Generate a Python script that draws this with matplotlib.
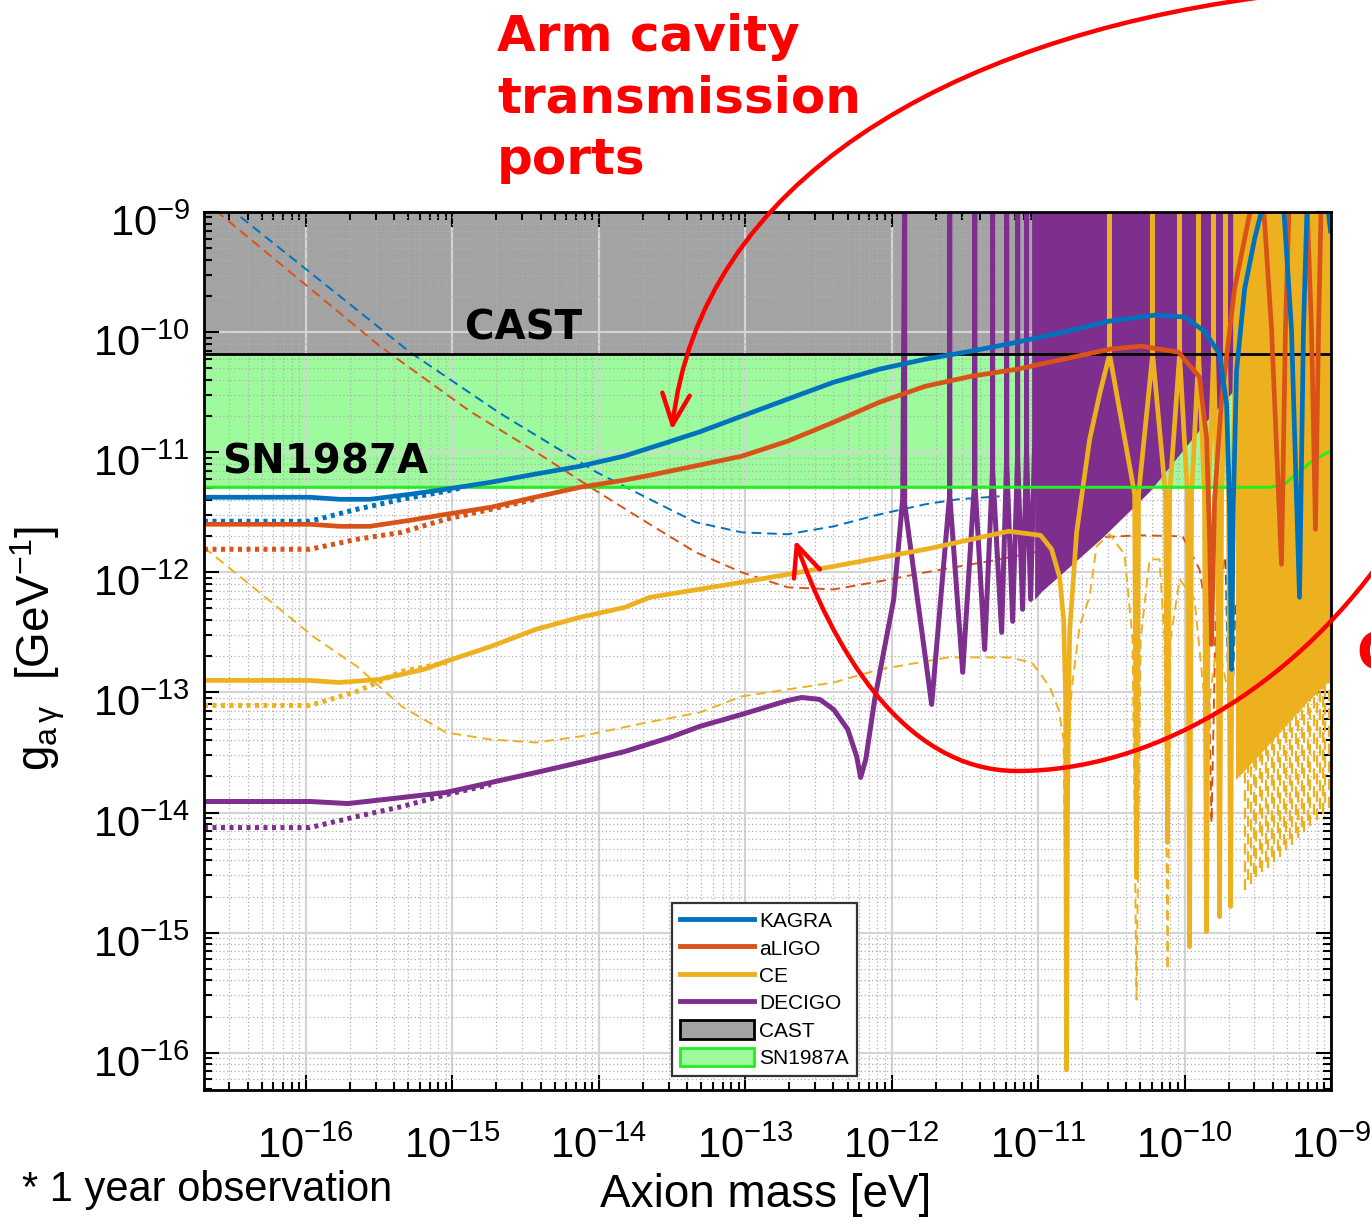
import numpy as np
import matplotlib
matplotlib.use("Agg")
import matplotlib.pyplot as plt
from matplotlib.path import Path
from matplotlib.patches import FancyArrowPatch, Patch
from matplotlib.lines import Line2D
from matplotlib.ticker import LogLocator, NullFormatter, FixedLocator
from matplotlib.transforms import ScaledTranslation

plt.rcParams['font.family'] = ['Liberation Sans', 'DejaVu Sans']
plt.rcParams['mathtext.fontset'] = 'custom'
plt.rcParams['mathtext.rm'] = 'Liberation Sans'
plt.rcParams['mathtext.it'] = 'Liberation Sans:italic'
plt.rcParams['mathtext.default'] = 'regular'

# ---- data (log10 of axion mass [eV] and log10 of g_ag [GeV^-1]) ----
TOP = -8.81  # curves running off the top of the plot

x_decades = [-16, -15, -14, -13, -12, -11, -10, -9]
y_decades = [-16, -15, -14, -13, -12, -11, -10, -9]

cast_logg = -10.183
sn_logm = np.array([-16.696, -9.420, -9.317, -9.215, -9.113, -9.003])
sn_logg = np.array([-11.292, -11.292, -11.267, -11.158, -11.058, -10.992])

kagra_logm = np.array([-16.696, -15.973, -15.768, -15.563, -15.290, -15.044, -14.737, -14.437,
                       -14.130, -13.829, -13.529, -13.317, -13.024, -12.710, -12.396, -12.082,
                       -11.768, -11.454, -11.140, -10.826, -10.512, -10.198, -10.0, -9.864,
                       -9.761, -9.713, -9.693, -9.679, -9.666, -9.645, -9.590, -9.522,
                       -9.474, -9.447, -9.331, -9.270, -9.215, -9.188, -9.160, -9.038, -9.003])
kagra_logg = np.array([-11.375, -11.375, -11.392, -11.392, -11.350, -11.308, -11.250, -11.183,
                       -11.117, -11.033, -10.917, -10.833, -10.700, -10.558, -10.417, -10.308,
                       -10.225, -10.158, -10.083, -10.000, -9.908, -9.858, -9.875, -9.992,
                       -10.183, -10.600, -11.433, -12.808, -11.392, -10.325, -9.642, -9.225,
                       -8.992, TOP, TOP, -9.975, -12.208, -9.975, TOP, TOP, -9.158])

aligo_logm = np.array([-16.696, -15.973, -15.768, -15.563, -15.290, -15.044, -14.737, -14.437,
                       -14.130, -13.829, -13.652, -13.317, -13.024, -12.710, -12.396, -12.082,
                       -11.768, -11.454, -11.140, -10.826, -10.512, -10.294, -10.041, -9.898,
                       -9.850, -9.829, -9.816, -9.795, -9.747, -9.659, -9.556, -9.536,
                       -9.468, -9.406, -9.338, -9.311, -9.283, -9.167, -9.133, -9.106,
                       -9.085, -9.065])
aligo_logg = np.array([-11.600, -11.600, -11.617, -11.617, -11.567, -11.517, -11.458, -11.375,
                       -11.292, -11.233, -11.192, -11.108, -11.033, -10.908, -10.750, -10.583,
                       -10.450, -10.367, -10.308, -10.225, -10.142, -10.117, -10.167, -10.375,
                       -10.875, -11.708, -12.600, -11.392, -10.558, -9.642, -9.017, TOP,
                       TOP, -9.975, -11.933, -9.975, TOP, TOP, -9.975, -11.642,
                       -9.975, TOP])

ce_logm = np.array([-16.696, -15.973, -15.775, -15.502, -15.195, -15.044, -14.737, -14.430,
                    -14.130, -13.823, -13.652, -13.024, -12.396, -11.768, -11.454, -11.201,
                    -10.983, -10.908, -10.853, -10.826, -10.812, -10.806, -10.799, -10.785,
                    -10.737, -10.648, -10.580, -10.512,
                    -10.512, -10.512, -10.341, -10.328, -10.314, -10.218, -10.218, -10.218,
                    -10.130, -10.116, -10.102, -10.034, -10.034, -10.034, -9.980, -9.966,
                    -9.952, -9.904, -9.904, -9.904, -9.864, -9.850, -9.836, -9.802,
                    -9.802, -9.802, -9.775, -9.761, -9.747, -9.720, -9.720, -9.720,
                    -9.700, -9.686, -9.672, -9.652, -9.652])
ce_logg = np.array([-12.900, -12.900, -12.917, -12.892, -12.808, -12.742, -12.617, -12.475,
                    -12.375, -12.292, -12.208, -12.083, -11.950, -11.808, -11.725, -11.658,
                    -11.692, -11.808, -12.042, -12.392, -13.058, -16.142, -13.892, -12.500,
                    -11.667, -10.892, -10.517, -10.183,
                    TOP, -10.183, -11.350, -14.542, -11.350, -10.183, TOP, -10.183,
                    -11.350, -14.250, -11.350, -10.183, TOP, -10.183, -11.350, -15.117,
                    -11.350, -10.183, TOP, -10.183, -11.350, -14.992, -11.350, -10.183,
                    TOP, -10.183, -11.350, -14.867, -11.350, -10.183, TOP, -10.183,
                    -11.350, -14.783, -11.350, -10.183, TOP])

decigo_logm = np.array([-16.696, -15.973, -15.713, -15.345, -15.044, -14.737, -14.430, -14.130,
                        -13.823, -13.515, -13.311, -13.024, -12.710, -12.614, -12.491, -12.396,
                        -12.300, -12.239, -12.212, -12.177, -12.116, -11.986, -11.925, -11.911,
                        -11.911, -11.727, -11.604, -11.604, -11.604, -11.515,
                        -11.433, -11.433, -11.433, -11.365, -11.311, -11.311, -11.311, -11.249,
                        -11.215, -11.215, -11.215, -11.174, -11.140, -11.140, -11.140, -11.106,
                        -11.079, -11.079, -11.079, -11.051, -11.024, -11.024])
decigo_logg = np.array([-13.908, -13.908, -13.925, -13.875, -13.833, -13.750, -13.667, -13.583,
                        -13.492, -13.375, -13.283, -13.183, -13.067, -13.042, -13.058, -13.142,
                        -13.308, -13.533, -13.708, -13.558, -13.058, -12.225, -11.392, TOP,
                        -11.433, -13.100, -11.350, TOP, -11.350, -12.833,
                        -11.225, TOP, -11.225, -12.642, -11.142, TOP, -11.142, -12.500,
                        -11.058, TOP, -11.058, -12.408, -11.017, TOP, -11.017, -12.308,
                        -10.975, TOP, -10.975, -12.225, -10.933, TOP])

# unresolved fast oscillations: lower envelopes of the filled bands
decigo_band_logm = np.array([-11.024, -10.976, -10.922, -10.560, -10.239, -9.829, -9.625])
decigo_band_logg = np.array([-12.225, -12.158, -12.100, -11.708, -11.325, -10.708, -10.433])
ce_band_logm = np.array([-9.652, -9.488, -9.352, -9.181, -9.003])
ce_band_logg = np.array([-13.725, -13.517, -13.333, -13.100, -12.892])

# dotted variants (low-mass part, merging into the solid curves)
kagra_dot_logm = np.array([-16.696, -15.973, -15.652, -15.345, -15.044, -14.921])
kagra_dot_logg = np.array([-11.575, -11.575, -11.475, -11.392, -11.325, -11.292])
aligo_dot_logm = np.array([-16.696, -15.973, -15.652, -15.345, -15.044, -14.737, -14.437])
aligo_dot_logg = np.array([-11.808, -11.808, -11.725, -11.667, -11.558, -11.475, -11.392])
ce_dot_logm = np.array([-16.696, -15.973, -15.652, -15.345, -15.038])
ce_dot_logg = np.array([-13.108, -13.108, -12.992, -12.825, -12.750])
decigo_dot_logm = np.array([-16.696, -15.973, -15.652, -15.345, -15.038, -14.737])
decigo_dot_logg = np.array([-14.125, -14.125, -14.033, -13.950, -13.850, -13.767])

# dashed variants
kagra_dash_logm = np.array([-16.696, -16.471, -15.290, -14.676, -14.014, -13.652, -13.338, -13.024,
                            -12.710, -12.396, -12.082, -11.768, -11.549, -11.263])
kagra_dash_logg = np.array([-8.800, -9.017, -10.167, -10.675, -11.167, -11.392, -11.583, -11.667,
                            -11.683, -11.617, -11.517, -11.433, -11.392, -11.367])
kagra_dash2_logm = np.array([-9.720, -9.700, -9.686, -9.672, -9.652])
kagra_dash2_logg = np.array([-11.892, -13.058, -14.000, -13.058, -12.225])
aligo_dash_logm = np.array([-16.696, -16.587, -15.495, -14.881, -14.437, -14.014, -13.652, -13.338,
                            -13.024, -12.710, -12.396, -12.082, -11.768, -11.263, -10.922, -10.580,
                            -10.307, -10.014, -9.898, -9.843, -9.816, -9.788, -9.727])
aligo_dash_logg = np.array([-8.908, -9.017, -10.117, -10.658, -10.992, -11.325, -11.600, -11.833,
                            -12.000, -12.125, -12.142, -12.075, -12.000, -11.892, -11.808, -11.708,
                            -11.692, -11.700, -11.975, -12.392, -14.083, -12.392, -11.892])
ce_dash_logm = np.array([-16.696, -16.621, -16.259, -15.952, -15.652, -15.345, -15.044, -14.737,
                         -14.430, -14.130, -13.672, -13.311, -13.024, -12.396, -12.082, -11.611,
                         -11.201, -11.044, -10.922, -10.860, -10.826, -10.812, -10.799, -10.771,
                         -10.717, -10.648, -10.601, -10.512, -10.410, -10.355, -10.328, -10.300,
                         -10.239, -10.171, -10.137, -10.116, -10.096, -10.034, -9.932, -9.864,
                         -9.850, -9.829, -9.775, -9.693])
ce_dash_logg = np.array([-11.792, -11.867, -12.225, -12.533, -12.783, -13.117, -13.333, -13.392,
                         -13.417, -13.367, -13.250, -13.167, -13.033, -12.917, -12.808, -12.708,
                         -12.708, -12.750, -12.950, -13.142, -13.392, -15.142, -13.558, -12.975,
                         -12.450, -12.200, -11.783, -11.683, -11.850, -12.558, -15.558, -12.558,
                         -11.892, -11.892, -12.558, -15.308, -12.558, -12.058, -12.225, -13.058,
                         -14.992, -13.058, -12.558, -13.058])
# bottoms of the dashed CE dips packed at the high-mass end
ce_dash_spike_logm = np.array([-9.590, -9.570, -9.549, -9.529, -9.509, -9.488, -9.468, -9.447,
                               -9.427, -9.406, -9.386, -9.365, -9.345, -9.324, -9.304, -9.283,
                               -9.263, -9.242, -9.222, -9.201, -9.181, -9.160, -9.140, -9.119,
                               -9.099, -9.078, -9.058, -9.038, -9.017])
ce_dash_spike_logg = np.array([-14.642, -14.558, -14.592, -14.508, -14.533, -14.458, -14.492, -14.408,
                               -14.458, -14.367, -14.408, -14.317, -14.367, -14.267, -14.308, -14.217,
                               -14.267, -14.167, -14.208, -14.117, -14.158, -14.067, -14.108, -14.017,
                               -14.058, -13.967, -14.008, -13.917, -13.958])

names = ['KAGRA', 'aLIGO', 'CE', 'DECIGO', 'CAST', 'SN1987A']
c_kagra, c_aligo, c_ce, c_decigo = '#0072BD', '#D95319', '#EDB120', '#7E2F8E'
c_cast, c_sn_fill, c_sn_line = '#a3a3a3', '#9dfa9d', '#22ee22'

W, H = 1371, 1222
fig = plt.figure(figsize=(W / 100, H / 100), dpi=100)
ax = fig.add_axes([204 / W, 1 - 1090 / H, 1127 / W, 878 / H])
ax.set_xscale('log')
ax.set_yscale('log')
ax.set_xlim(10 ** -16.696, 1e-9)
ax.set_ylim(10 ** -16.31, 1e-9)


def p(a):
    return 10.0 ** np.asarray(a, dtype=float)


# excluded regions
ax.fill_between([p(-16.8), 1e-9], p(cast_logg), p(TOP), color=c_cast, lw=0, zorder=0.2)
ax.fill_between(p(sn_logm), p(sn_logg), p(cast_logg), color=c_sn_fill, lw=0, zorder=0.2)

dash = (0, (5, 3))
dot = (0, (0.8, 0.9))
for m, g, c in [(kagra_dash_logm, kagra_dash_logg, c_kagra),
                (kagra_dash2_logm, kagra_dash2_logg, c_kagra),
                (aligo_dash_logm, aligo_dash_logg, c_aligo),
                (ce_dash_logm, ce_dash_logg, c_ce)]:
    ax.plot(p(m), p(g), color=c, lw=1.4, ls=dash, zorder=2)
ax.vlines(p(ce_dash_spike_logm), p(ce_dash_spike_logg), p(-12.5), colors=c_ce, lw=1.6,
          linestyles=dash, zorder=2)

for m, g, c in [(kagra_dot_logm, kagra_dot_logg, c_kagra),
                (aligo_dot_logm, aligo_dot_logg, c_aligo),
                (ce_dot_logm, ce_dot_logg, c_ce),
                (decigo_dot_logm, decigo_dot_logg, c_decigo)]:
    ax.plot(p(m), p(g), color=c, lw=3.6, ls=dot, zorder=2.1)

ax.plot(p(decigo_logm), p(decigo_logg), color=c_decigo, lw=3.6, zorder=3)
ax.fill_between(p(decigo_band_logm), p(decigo_band_logg), p(TOP), color=c_decigo, lw=0, zorder=3)
ax.plot(p(ce_logm), p(ce_logg), color=c_ce, lw=3.4, zorder=4)
ax.fill_between(p(ce_band_logm), p(ce_band_logg), p(TOP), color=c_ce, lw=0, zorder=4)

ax.axhline(p(cast_logg), color='k', lw=2.0, zorder=5)
ax.plot(p(sn_logm), p(sn_logg), color=c_sn_line, lw=2.2, zorder=5)

ax.plot(p(aligo_logm), p(aligo_logg), color=c_aligo, lw=3.4, zorder=6)
ax.plot(p(kagra_logm), p(kagra_logg), color=c_kagra, lw=3.4, zorder=7)

# axes styling
ax.set_axisbelow('line')
ax.xaxis.set_major_locator(FixedLocator(p(x_decades)))
ax.yaxis.set_major_locator(FixedLocator(p(y_decades)))
for axis in (ax.xaxis, ax.yaxis):
    axis.set_minor_locator(LogLocator(base=10, subs=np.arange(2, 10), numticks=200))
    axis.set_minor_formatter(NullFormatter())
ax.grid(True, which='major', color='#d4d4d4', lw=1.6, ls='-')
ax.grid(True, which='minor', color='#b0b0b0', lw=0.9, ls=(0, (1, 2)))
ax.tick_params(which='both', direction='in', top=True, right=True, width=1.5, colors='k')
ax.tick_params(which='major', length=11, labelsize=30)
ax.tick_params(axis='x', which='major', pad=26)
ax.tick_params(axis='y', which='major', pad=10)
ax.tick_params(which='minor', length=6)
for s in ax.spines.values():
    s.set_linewidth(2.0)
    s.set_zorder(8)
shift = ScaledTranslation(0, -6 / 72, fig.dpi_scale_trans)
for lab in ax.get_yticklabels():
    lab.set_transform(lab.get_transform() + shift)

# legend
handles = [Line2D([], [], color=c_kagra, lw=3.5), Line2D([], [], color=c_aligo, lw=3.5),
           Line2D([], [], color=c_ce, lw=3.5), Line2D([], [], color=c_decigo, lw=3.5),
           Patch(facecolor=c_cast, edgecolor='k', lw=2),
           Patch(facecolor=c_sn_fill, edgecolor=c_sn_line, lw=2)]
leg = ax.legend(handles, names, loc='upper left',
                bbox_to_anchor=((672 - 204) / 1127, (1090 - 903) / 878), borderaxespad=0,
                fontsize=15, handlelength=3.55, handleheight=1.0, labelspacing=0.33,
                handletextpad=0.25, borderpad=0.38, fancybox=False, edgecolor='#333333',
                framealpha=1)
leg.get_frame().set_linewidth(1.6)
leg.set_zorder(10)


def fx(x):
    return x / W


def fy(y):
    return 1 - y / H


# labels
fig.text(fx(766), fy(1195), 'Axion mass [eV]', fontsize=33, ha='center', va='center')
fig.text(fx(38), fy(648), r'$g_{a\,\gamma}$  [GeV$^{-1}$]', fontsize=33, rotation=90,
         ha='center', va='center')
fig.text(fx(22), fy(1190), '* 1 year observation', fontsize=30, ha='left', va='center')
fig.text(fx(465), fy(328), 'CAST', fontsize=29, fontweight='bold', ha='left', va='center',
         family='DejaVu Sans', zorder=9)
fig.text(fx(222), fy(463), 'SN1987A', fontsize=29, fontweight='bold', ha='left', va='center',
         family='DejaVu Sans', zorder=9)

# red annotation
fig.text(fx(497), fy(13), 'Arm cavity\ntransmission\nports', color='#ff0000', fontsize=36,
         fontweight='bold', ha='left', va='top', family='DejaVu Sans', linespacing=1.35)
fig.text(fx(1356), fy(655), 'C', color='#ff0000', fontsize=38, fontweight='bold',
         ha='left', va='center', family='DejaVu Sans')

path1 = Path([(fx(1256), fy(-2)), (fx(950), fy(40)), (fx(700), fy(180)), (fx(672), fy(430))],
             [Path.MOVETO, Path.CURVE4, Path.CURVE4, Path.CURVE4])
path2 = Path([(fx(1385), fy(555)), (fx(1290), fy(690)), (fx(1150), fy(771)), (fx(1017), fy(771)),
              (fx(900), fy(771)), (fx(830), fy(640)), (fx(795), fy(540))],
             [Path.MOVETO, Path.CURVE4, Path.CURVE4, Path.CURVE4,
              Path.CURVE4, Path.CURVE4, Path.CURVE4])
for pth in (path1, path2):
    arr = FancyArrowPatch(path=pth, arrowstyle='->,head_length=1.0,head_width=0.45',
                          mutation_scale=22, color='#ff0000', lw=3.2,
                          transform=fig.transFigure)
    fig.add_artist(arr)

fig.savefig('out.png', dpi=100)
